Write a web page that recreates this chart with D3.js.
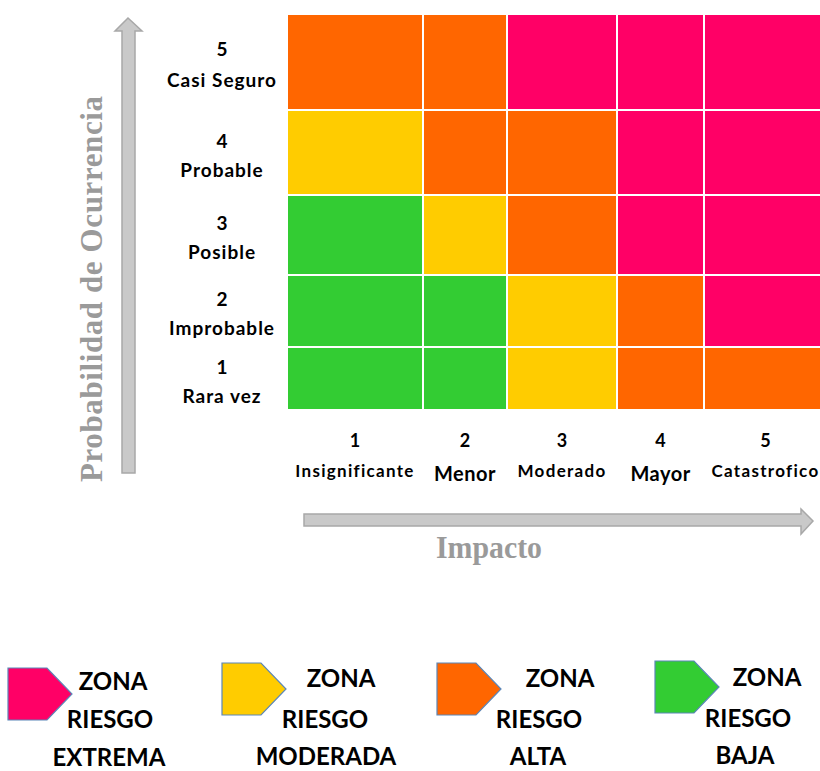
<!DOCTYPE html>
<html lang="es">
<head>
  <meta charset="UTF-8">
  <title>Matriz de riesgo</title>
  <script src="https://cdn.jsdelivr.net/npm/d3@7"></script>
  <style>
    body { margin: 0; background: #fff; }
    text { font-family: Lato, "Open Sans", sans-serif; font-weight: bold; }
  </style>
</head>
<body>
  <svg width="820" height="771"></svg>
  <script>
    // impacto (columnas) y probabilidad (filas)
    var impactLevels = [1, 2, 3, 4, 5];
    var impactLabels = ["Insignificante", "Menor", "Moderado", "Mayor", "Catastrofico"];
    var probLevels = [1, 2, 3, 4, 5];
    var probLabels = ["Rara vez", "Improbable", "Posible", "Probable", "Casi Seguro"];

    // zona de riesgo por fila de probabilidad (1..5), columnas impacto 1..5
    var zoneRows = [
      ["BAJA", "BAJA", "MODERADA", "ALTA", "ALTA"],
      ["BAJA", "BAJA", "MODERADA", "ALTA", "EXTREMA"],
      ["BAJA", "MODERADA", "ALTA", "EXTREMA", "EXTREMA"],
      ["MODERADA", "ALTA", "ALTA", "EXTREMA", "EXTREMA"],
      ["ALTA", "ALTA", "EXTREMA", "EXTREMA", "EXTREMA"]
    ];

    var zoneNames = ["EXTREMA", "MODERADA", "ALTA", "BAJA"];
    var zoneColors = ["#ff0066", "#ffcc00", "#ff6600", "#33cc33"];

    var svg = d3.select("svg");

    // celdas de ancho desigual, como en la imagen original
    var x = d3.scaleLinear().domain([0, 1, 2, 3, 4, 5]).range([287, 423, 507, 617, 704, 821]);
    var y = d3.scaleLinear().domain([0, 1, 2, 3, 4, 5]).range([410, 347, 275, 195, 110, 14]);
    var color = d3.scaleOrdinal().domain(zoneNames).range(zoneColors);

    var cells = [];
    probLevels.forEach(function (p, i) {
      impactLevels.forEach(function (m, j) {
        cells.push({ p: p, m: m, zone: zoneRows[i][j] });
      });
    });

    svg.append("g")
      .selectAll("rect")
      .data(cells)
      .enter()
      .append("rect")
      .attr("x", d => x(d.m - 1))
      .attr("y", d => y(d.p))
      .attr("width", d => x(d.m) - x(d.m - 1))
      .attr("height", d => y(d.p - 1) - y(d.p))
      .attr("fill", d => color(d.zone))
      .attr("stroke", "#fff")
      .attr("stroke-width", 2);

    // etiquetas de filas
    var rowLab = svg.append("g")
      .selectAll("g")
      .data(probLevels)
      .enter()
      .append("g")
      .attr("transform", d => "translate(222," + (y(d) + y(d - 1)) / 2 + ")");
    rowLab.append("text")
      .attr("text-anchor", "middle")
      .attr("y", d => d === 5 ? -6 : -5)
      .attr("font-size", 19)
      .text(d => d);
    rowLab.append("text")
      .attr("text-anchor", "middle")
      .attr("y", d => d === 5 ? 25 : 24)
      .attr("font-size", 19)
      .attr("letter-spacing", 1)
      .text((d, i) => probLabels[i]);

    // etiquetas de columnas
    var colLab = svg.append("g")
      .selectAll("g")
      .data(impactLevels)
      .enter()
      .append("g")
      .attr("transform", d => "translate(" + ((x(d - 1) + x(d)) / 2 + (d === 5 ? 3 : 0)) + ",0)");
    colLab.append("text")
      .attr("text-anchor", "middle")
      .attr("y", 447)
      .attr("font-size", 18)
      .text(d => d);
    colLab.append("text")
      .attr("text-anchor", "middle")
      .attr("y", d => (d === 2 || d === 4) ? 481 : 477)
      .attr("font-size", d => (d === 2 || d === 4) ? 20 : 17)
      .attr("letter-spacing", d => (d === 2 || d === 4) ? 0.5 : 1.3)
      .text((d, i) => impactLabels[i]);

    // flechas grises
    var arrowFill = "#c9c9c9", arrowStroke = "#a8a8a8";
    svg.append("path")
      .attr("d", "M122,473 L122,31 L115,31 L128,18 L142,31 L135,31 L135,473 Z")
      .attr("fill", arrowFill)
      .attr("stroke", arrowStroke)
      .attr("stroke-width", 1.5);
    svg.append("path")
      .attr("d", "M304,514 L801,514 L801,509 L813,521 L801,534 L801,526 L304,526 Z")
      .attr("fill", arrowFill)
      .attr("stroke", arrowStroke)
      .attr("stroke-width", 1.5);

    svg.append("text")
      .attr("transform", "translate(102,289) rotate(-90)")
      .attr("text-anchor", "middle")
      .style("font-family", "'Liberation Serif', serif")
      .attr("font-size", 31)
      .attr("fill", "#9a9a9a")
      .attr("textLength", 386)
      .attr("lengthAdjust", "spacing")
      .text("Probabilidad de Ocurrencia");

    svg.append("text")
      .attr("x", 489)
      .attr("y", 558)
      .attr("text-anchor", "middle")
      .style("font-family", "'Liberation Serif', serif")
      .attr("font-size", 31)
      .attr("fill", "#9a9a9a")
      .attr("textLength", 106)
      .attr("lengthAdjust", "spacingAndGlyphs")
      .text("Impacto");

    // leyenda
    var legendX = [8, 222, 437, 655];
    var legendY = [668, 663, 663, 661];
    var textX = [[113, 110, 109], [341, 325, 326], [560, 539, 538], [767, 748, 745]];
    var textDy = [[0, 0, 0], [-3, 0, -1], [-3, 0, -1], [-4, -1, -2]];

    var leg = svg.append("g")
      .selectAll("g")
      .data(zoneNames)
      .enter()
      .append("g");

    leg.append("path")
      .attr("d", (d, i) => {
        var x0 = legendX[i], y0 = legendY[i];
        return "M" + x0 + "," + y0 + " L" + (x0 + 39) + "," + y0 + " L" + (x0 + 64) + "," + (y0 + 26)
          + " L" + (x0 + 39) + "," + (y0 + 52) + " L" + x0 + "," + (y0 + 52) + " Z";
      })
      .attr("fill", d => color(d))
      .attr("stroke", "#5b86b8")
      .attr("stroke-width", 1.2);

    ["ZONA", "RIESGO", null].forEach(function (w, k) {
      leg.append("text")
        .attr("x", (d, i) => textX[i][k])
        .attr("y", (d, i) => 690 + k * 38 + textDy[i][k])
        .attr("text-anchor", "middle")
        .attr("font-size", 24)
        .text(d => w || d);
    });
  </script>
</body>
</html>
